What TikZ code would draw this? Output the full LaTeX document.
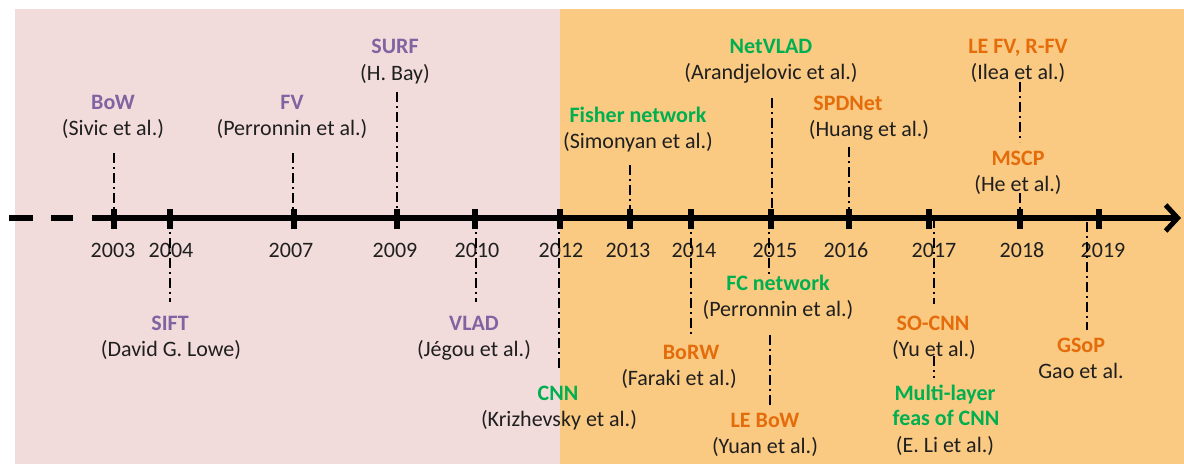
\documentclass[tikz,border=0pt]{standalone}
\usepackage{fontspec}
\setmainfont{Carlito}
\usetikzlibrary{arrows.meta}
\definecolor{pinkbg}{HTML}{F2DCDB}
\definecolor{orangebg}{HTML}{FAC982}
\definecolor{cpurple}{HTML}{8064A2}
\definecolor{cgreen}{HTML}{00B050}
\definecolor{corange}{HTML}{E46C0A}
\definecolor{ctext}{HTML}{1F1F1F}
\begin{document}
\begin{tikzpicture}[x=1pt,y=-1pt,
  txt/.style={inner sep=0pt, text height=14pt, text depth=0pt, font=\fontsize{22}{26}\selectfont, text=ctext},
  ttl/.style={inner sep=0pt, text height=14pt, text depth=0pt, font=\fontsize{22}{26}\selectfont\bfseries},
  pur/.style={ttl,text=cpurple},
  grn/.style={ttl,text=cgreen},
  org/.style={ttl,text=corange},
  dd/.style={line width=2pt, dash pattern=on 10pt off 4pt on 2pt off 4pt},
  tickmark/.style={line width=6pt},
  axisline/.style={line width=6pt}
]
\useasboundingbox (0,0) rectangle (1184,464);
% backgrounds
\fill[pinkbg] (15,9) rectangle (560,464);
\fill[orangebg] (560,9) rectangle (1184,464);

% years
\node[txt] (y2003) at (113,250) {2003};
\node[txt] (y2004) at (171,250) {2004};
\node[txt] (y2007) at (291,250) {2007};
\node[txt] (y2009) at (395,250) {2009};
\node[txt] (y2010) at (477,250) {2010};
\node[txt] (y2012) at (561,250) {2012};
\node[txt] (y2013) at (628,250) {2013};
\node[txt] (y2014) at (694,250) {2014};
\node[txt] (y2015) at (775,250) {2015};
\node[txt] (y2016) at (846,250) {2016};
\node[txt] (y2017) at (934,250) {2017};
\node[txt] (y2018) at (1022,250) {2018};
\node[txt] (y2019) at (1103,250) {2019};

% axis
\coordinate (dstart) at (9,218);
\coordinate (axstart) at (92,218);
\coordinate (axend) at (1181,218);
\draw[axisline, dash pattern=on 24pt off 18pt on 22pt off 19pt] (dstart) -- (axstart);
\draw[axisline, -{Straight Barb[length=12pt,width=26pt,line width=5pt]}] (axstart) -- (axend);

% ticks
\foreach \x in {113.7,169.5,293.5,396.9,474.6,559.5,629.6,691.3,770.9,848.5,929.3,1019.6,1099.2}
  \draw[tickmark] (\x,209) -- (\x,229);

% line endpoints
\coordinate (a1) at (113.5,153); \coordinate (b1) at (113.5,218);
\coordinate (a2) at (293,153);   \coordinate (b2) at (293,218);
\coordinate (a3) at (397,92);    \coordinate (b3) at (397,218);
\coordinate (a4) at (630,165);   \coordinate (b4) at (630,218);
\coordinate (a5) at (772,98);    \coordinate (b5) at (772,218);
\coordinate (a6) at (848.5,147); \coordinate (b6) at (848.5,218);
\coordinate (a7) at (1020,82);   \coordinate (b7) at (1020,142);
\coordinate (a8) at (1020,193);  \coordinate (b8) at (1020,218);
\coordinate (a9) at (169.5,218); \coordinate (b9) at (169.5,302);
\coordinate (a10) at (475.5,218);\coordinate (b10) at (475.5,302);
\coordinate (a11) at (559,218);  \coordinate (b11) at (559,369);
\coordinate (a12) at (691,218);  \coordinate (b12) at (691,337);
\coordinate (a13) at (769,218);  \coordinate (b13) at (769,275);
\coordinate (a14) at (770,335);  \coordinate (b14) at (770,405);
\coordinate (a15) at (934,218);  \coordinate (b15) at (934,304);
\coordinate (a16) at (934,356);  \coordinate (b16) at (934,378);
\coordinate (a17) at (1087,222); \coordinate (b17) at (1087,330);
\foreach \i in {1,...,17} \draw[dd] (a\i) -- (b\i);

% top labels
\node[pur] (bow) at (113,102) {BoW};
\node[txt] (bowa) at (113,128) {(Sivic et al.)};
\node[pur] (fv) at (292,102) {FV};
\node[txt] (fva) at (292,128) {(Perronnin et al.)};
\node[pur] (surf) at (395,46) {SURF};
\node[txt] (surfa) at (395,73) {(H. Bay)};
\node[grn] (fisher) at (638,115) {Fisher network};
\node[txt] (fishera) at (638,141) {(Simonyan et al.)};
\node[grn] (netvlad) at (771,46) {NetVLAD};
\node[txt] (netvlada) at (771,72) {(Arandjelovic et al.)};
\node[org] (spd) at (848,103) {SPDNet};
\node[txt] (spda) at (869,129) {(Huang et al.)};
\node[org] (lefv) at (1018,46) {LE FV, R-FV};
\node[txt] (lefva) at (1018,72) {(Ilea et al.)};
\node[org] (mscp) at (1018,158) {MSCP};
\node[txt] (mscpa) at (1018,184) {(He et al.)};

% bottom labels
\node[pur] (sift) at (170,323) {SIFT};
\node[txt] (sifta) at (171,349) {(David G. Lowe)};
\node[pur] (vlad) at (474,323) {VLAD};
\node[txt] (vlada) at (474,349) {(Jégou et al.)};
\node[grn] (cnn) at (558,393) {CNN};
\node[txt] (cnna) at (559,419) {(Krizhevsky et al.)};
\node[org] (borw) at (691,352) {BoRW};
\node[txt] (borwa) at (679,378) {(Faraki et al.)};
\node[grn] (fc) at (778,283) {FC network};
\node[txt] (fca) at (778,309) {(Perronnin et al.)};
\node[org] (lebow) at (765,420) {LE BoW};
\node[txt] (lebowa) at (765,446) {(Yuan et al.)};
\node[org] (socnn) at (933,323) {SO-CNN};
\node[txt] (socnna) at (934,349) {(Yu et al.)};
\node[grn] (ml1) at (945,393) {Multi-layer};
\node[grn] (ml2) at (946,418) {feas of CNN};
\node[txt] (mla) at (945,445) {(E. Li et al.)};
\node[org] (gsop) at (1081,345) {GSoP};
\node[txt] (gsopa) at (1081,371) {Gao et al.};
\end{tikzpicture}
\end{document}
